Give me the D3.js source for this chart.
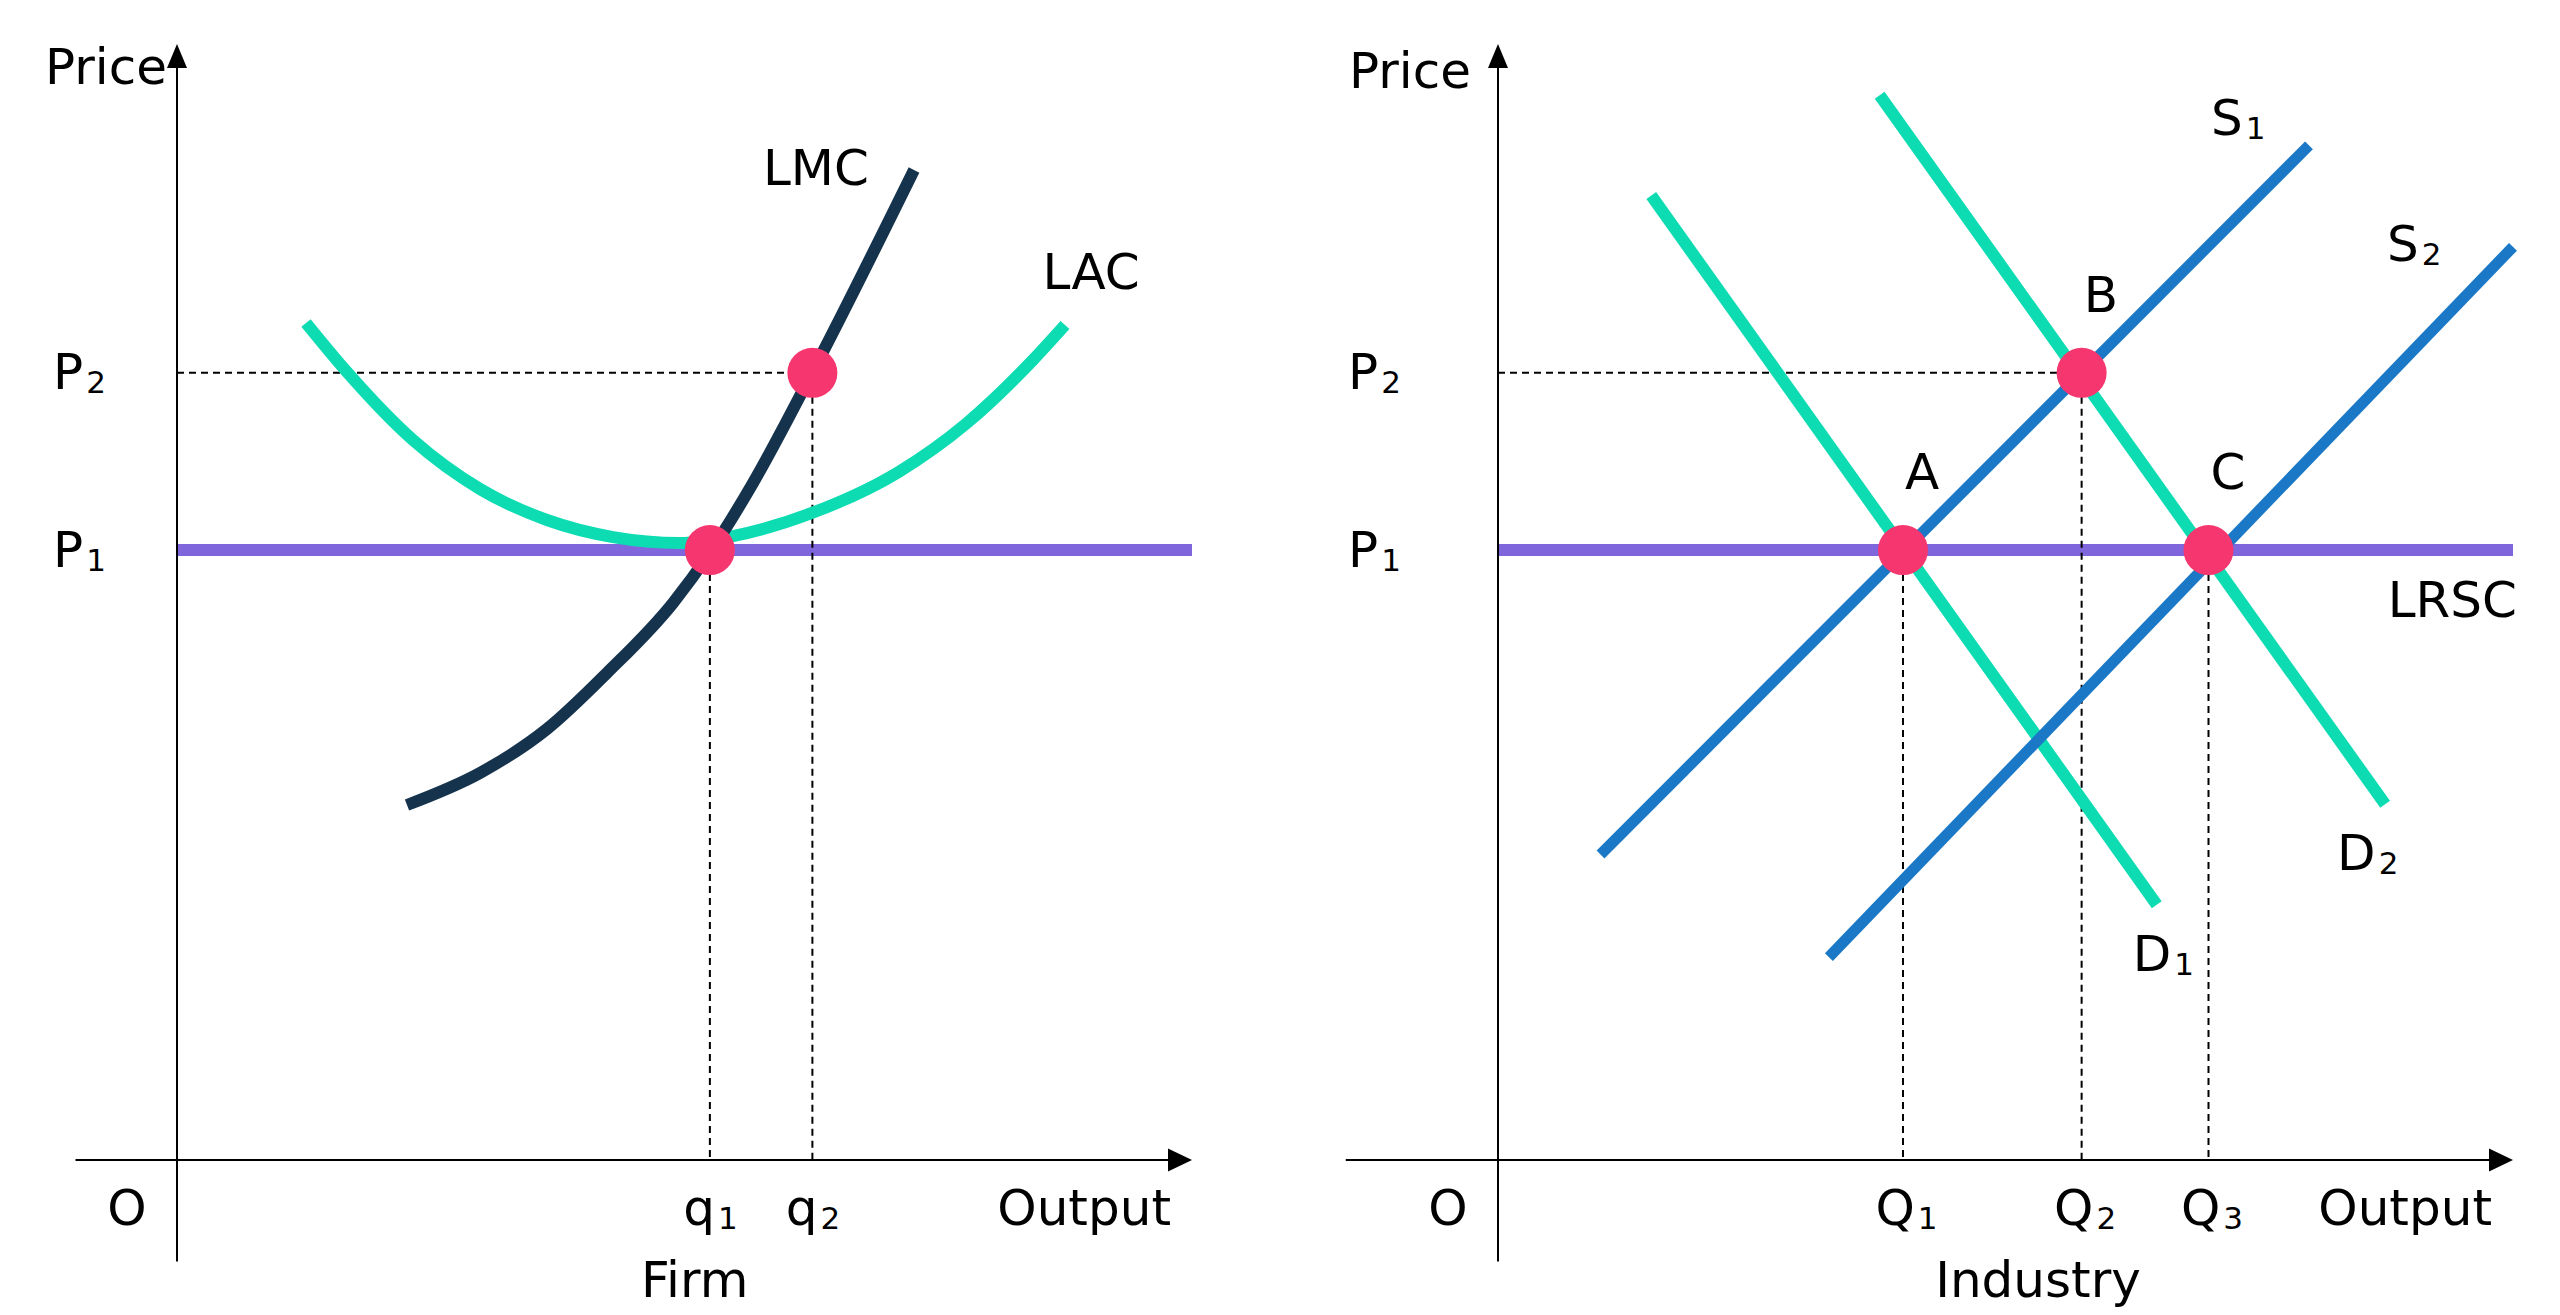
<!DOCTYPE html>
<html>
<head>
<meta charset="utf-8">
<script src="https://cdn.jsdelivr.net/npm/d3@7"></script>
<style>
  body { margin: 0; background: #ffffff; }
  svg { display: block; background: #ffffff; }
  text { font-family: "DejaVu Sans", sans-serif; font-size: 50px; fill: #000; }
</style>
</head>
<body>
<svg id="chart" width="2560" height="1315"></svg>
<script>
// ---------------- DATA (abstract units: output 0..100, price 0..100) ----------------
const priceLabels = [["P", "1"], ["P", "2"]];
const priceValues = [54.7, 70.6];

// Firm panel
const firmQLabels = [["q", "1"], ["q", "2"]];
const firmQValues = [52.5, 62.6];
const lmcX = [22.66, 29.85, 36.45, 42.36, 48.87, 52.61, 56.75, 62.56, 72.61];
const lmcY = [31.84, 34.71, 38.65, 43.68, 49.96, 54.62, 60.72, 70.58, 88.79];
const lacX = [12.71, 16.75, 23.25, 29.85, 36.45, 42.96, 49.56, 54.78, 62.56, 71.08, 77.83, 84.33, 87.49];
const lacY = [75.07, 70.67, 64.57, 60.18, 57.40, 55.87, 55.34, 55.96, 58.03, 61.70, 66.10, 71.75, 74.89];
const firmPointX = [52.5, 62.6];
const firmPointY = [54.7, 70.6];

// Industry panel
const industryQLabels = [["Q", "1"], ["Q", "2"], ["Q", "3"]];
const industryQValues = [39.9, 57.5, 70.0];
const s1X = [10.1, 79.9], s1Y = [27.4, 91.0];
const s2X = [32.6, 100.0], s2Y = [18.2, 81.9];
const d1X = [15.1, 64.9], d1Y = [86.5, 22.9];
const d2X = [37.6, 87.4], d2Y = [95.5, 31.9];
const pointLabels = ["A", "B", "C"];
const pointX = [39.9, 57.5, 70.0];
const pointY = [54.7, 70.6, 54.7];

// ---------------- STYLE ----------------
const COL = {
  teal: "#0ddcb2",
  blue: "#1a78c6",
  purple: "#8066dc",
  navy: "#15334d",
  pink: "#f5366f",
  ink: "#000000"
};

const svg = d3.select("#chart");

function zip(xs, ys) { return xs.map((x, i) => [x, ys[i]]); }

// write "base" + subscript into a text selection
function subLabel(sel, base, sub) {
  sel.text(null);
  sel.append("tspan").text(base);
  sel.append("tspan").attr("dx", 3).attr("dy", 4).style("font-size", "31px").text(sub);
}

function makePanel(opts) {
  const x = d3.scaleLinear().domain([0, 100]).range(opts.xRange);
  const y = d3.scaleLinear().domain([0, 100]).range([1160, 45]);
  const g = svg.append("g");
  const line = d3.line().x(d => x(d[0])).y(d => y(d[1]));

  // horizontal long-run price line (P1)
  g.append("path")
    .attr("d", line([[0, priceValues[0]], [100, priceValues[0]]]))
    .attr("stroke", COL.purple).attr("stroke-width", 12).attr("fill", "none");

  // axes lines
  const x0 = x(0), y0 = y(0);
  g.append("line").attr("x1", x(opts.xAxisStart)).attr("x2", x(100) - 23)
    .attr("y1", y0).attr("y2", y0).attr("stroke", COL.ink).attr("stroke-width", 2.2);
  g.append("path")
    .attr("d", `M${x(100)},${y0} L${x(100) - 24},${y0 - 11.5} L${x(100) - 24},${y0 + 11.5} Z`)
    .attr("fill", COL.ink);
  g.append("line").attr("x1", x0).attr("x2", x0)
    .attr("y1", y(-9.1)).attr("y2", y(100) + 22).attr("stroke", COL.ink).attr("stroke-width", 2);
  g.append("path")
    .attr("d", `M${x0},${y(100) - 1} L${x0 - 10},${y(100) + 23} L${x0 + 10},${y(100) + 23} Z`)
    .attr("fill", COL.ink);

  // tick labels via d3 axes (no ticks / domain)
  const xAxis = d3.axisBottom(x).tickValues(opts.qValues).tickSize(0).tickPadding(29);
  const gx = g.append("g").attr("transform", `translate(0,${y0})`).call(xAxis);
  gx.select(".domain").remove();
  gx.attr("font-size", null).attr("font-family", null);
  gx.selectAll("text").attr("fill", COL.ink).style("font-size", "50px")
    .attr("dx", opts.qDx)
    .each(function (d, i) { subLabel(d3.select(this), opts.qLabels[i][0], opts.qLabels[i][1]); });

  const yAxis = d3.axisLeft(y).tickValues(priceValues).tickSize(0).tickPadding(opts.pPad);
  const gy = g.append("g").attr("transform", `translate(${x0},0)`).call(yAxis);
  gy.select(".domain").remove();
  gy.attr("font-size", null).attr("font-family", null);
  gy.selectAll("text").attr("fill", COL.ink).style("font-size", "50px")
    .attr("text-anchor", "start").attr("x", -opts.pPad)
    .each(function (d, i) { subLabel(d3.select(this), priceLabels[i][0], priceLabels[i][1]); });

  // axis titles
  g.append("text").attr("x", opts.priceX).attr("y", opts.priceY).text("Price");
  g.append("text").attr("x", x0 - 50).attr("y", 1225).attr("text-anchor", "middle").text("O");
  g.append("text").attr("x", x(100) - 21).attr("y", 1225).attr("text-anchor", "end").text("Output");
  g.append("text").attr("x", x(opts.titleX)).attr("y", 1297).attr("text-anchor", "middle").text(opts.title);

  return { x, y, g, line };
}

function dashed(g, x1, y1, x2, y2) {
  g.append("line").attr("x1", x1).attr("y1", y1).attr("x2", x2).attr("y2", y2)
    .attr("stroke", COL.ink).attr("stroke-width", 2).attr("stroke-dasharray", "7,5");
}

// ---------------- FIRM PANEL ----------------
{
  const P = makePanel({
    xRange: [177, 1192], xAxisStart: -10, qValues: firmQValues, qLabels: firmQLabels, qDx: 0,
    pPad: 124, priceX: 45, priceY: 84, title: "Firm", titleX: 51.0
  });
  const { x, y, g } = P;

  // dashed guides
  dashed(g, x(0), y(priceValues[1]), x(firmPointX[1]), y(priceValues[1]));
  dashed(g, x(firmQValues[0]), y(firmPointY[0]), x(firmQValues[0]), y(0));
  dashed(g, x(firmQValues[1]), y(firmPointY[1]), x(firmQValues[1]), y(0));

  const curve = d3.line().x(d => x(d[0])).y(d => y(d[1])).curve(d3.curveMonotoneX);
  g.append("path").attr("d", curve(zip(lacX, lacY)))
    .attr("stroke", COL.teal).attr("stroke-width", 12).attr("fill", "none");
  g.append("path").attr("d", curve(zip(lmcX, lmcY)))
    .attr("stroke", COL.navy).attr("stroke-width", 12).attr("fill", "none");

  g.selectAll("circle.pt").data(zip(firmPointX, firmPointY)).enter().append("circle")
    .attr("cx", d => x(d[0])).attr("cy", d => y(d[1])).attr("r", 25).attr("fill", COL.pink);

  const lmcEnd = [x(lmcX[lmcX.length - 1]), y(lmcY[lmcY.length - 1])];
  g.append("text").attr("x", lmcEnd[0] - 98).attr("y", lmcEnd[1] + 15)
    .attr("text-anchor", "middle").text("LMC");
  const lacEnd = [x(lacX[lacX.length - 1]), y(lacY[lacY.length - 1])];
  g.append("text").attr("x", lacEnd[0] + 26).attr("y", lacEnd[1] - 36)
    .attr("text-anchor", "middle").text("LAC");
}

// ---------------- INDUSTRY PANEL ----------------
{
  const P = makePanel({
    xRange: [1498, 2513], xAxisStart: -15, qValues: industryQValues, qLabels: industryQLabels, qDx: 3,
    pPad: 150, priceX: 1349, priceY: 88, title: "Industry", titleX: 53.2
  });
  const { x, y, g, line } = P;

  dashed(g, x(0), y(priceValues[1]), x(pointX[1]), y(priceValues[1]));
  industryQValues.forEach((q, i) => dashed(g, x(q), y(pointY[i]), x(q), y(0)));

  const straight = [
    { xs: d1X, ys: d1Y, c: COL.teal, w: 12 },
    { xs: d2X, ys: d2Y, c: COL.teal, w: 12 },
    { xs: s1X, ys: s1Y, c: COL.blue, w: 11 },
    { xs: s2X, ys: s2Y, c: COL.blue, w: 11 }
  ];
  straight.forEach(s => {
    g.append("path").attr("d", line(zip(s.xs, s.ys)))
      .attr("stroke", s.c).attr("stroke-width", s.w).attr("fill", "none");
  });

  g.selectAll("circle.pt").data(zip(pointX, pointY)).enter().append("circle")
    .attr("cx", d => x(d[0])).attr("cy", d => y(d[1])).attr("r", 25).attr("fill", COL.pink);

  // point labels
  pointLabels.forEach((lab, i) => {
    g.append("text").attr("x", x(pointX[i]) + 2).attr("y", y(pointY[i]) - 61).text(lab);
  });

  // curve labels
  subLabel(g.append("text").attr("x", x(s1X[1]) - 98).attr("y", y(s1Y[1]) - 10), "S", "1");
  subLabel(g.append("text").attr("x", x(s2X[1]) - 126).attr("y", y(s2Y[1]) + 14), "S", "2");
  subLabel(g.append("text").attr("x", x(d1X[1]) - 24).attr("y", y(d1Y[1]) + 66), "D", "1");
  subLabel(g.append("text").attr("x", x(d2X[1]) - 48).attr("y", y(d2Y[1]) + 66), "D", "2");
  g.append("text").attr("x", x(100) + 4).attr("y", y(priceValues[0]) + 67)
    .attr("text-anchor", "end").text("LRSC");
}
</script>
</body>
</html>
